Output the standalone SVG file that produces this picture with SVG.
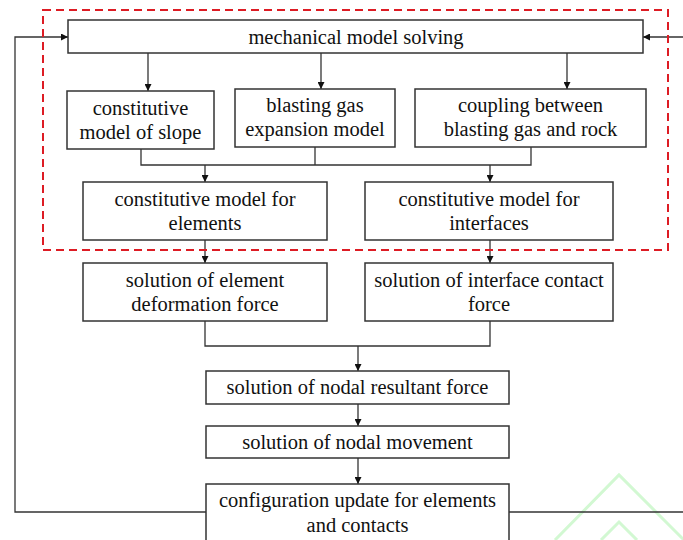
<svg xmlns="http://www.w3.org/2000/svg" width="683" height="540" viewBox="0 0 683 540">
<style>
.box{fill:#fff;stroke:#333;stroke-width:1.5}
.t{font-family:"Liberation Serif","Times New Roman",serif;font-size:20.5px;fill:#111;text-anchor:middle}
.c{fill:none;stroke:#333;stroke-width:1.3}
.wm{fill:none;stroke:#d2f8d2;stroke-width:3}
</style>
<defs>
<marker id="ah" viewBox="0 0 10 10" refX="10" refY="5" markerWidth="7" markerHeight="7" markerUnits="userSpaceOnUse" orient="auto">
<path d="M0,0 L10,5 L0,10 z" fill="#111"/>
</marker>
</defs>
<rect width="683" height="540" fill="#fff"/>
<g id="watermark">
<polyline class="wm" points="555,540 619,475 684,540"/>
<polyline class="wm" points="601,540 619,522 637,540"/>
</g>
<g id="connectors">
<line class="c" x1="148" y1="53" x2="148" y2="91" marker-end="url(#ah)"/>
<line class="c" x1="321" y1="53" x2="321" y2="89" marker-end="url(#ah)"/>
<line class="c" x1="567" y1="53" x2="567" y2="89" marker-end="url(#ah)"/>
<polyline class="c" points="141,149 141,165 531,165 531,147"/>
<line class="c" x1="315" y1="147" x2="315" y2="165"/>
<line class="c" x1="205" y1="165" x2="205" y2="182" marker-end="url(#ah)"/>
<line class="c" x1="490" y1="165" x2="490" y2="182" marker-end="url(#ah)"/>
<line class="c" x1="205" y1="240" x2="205" y2="263" marker-end="url(#ah)"/>
<line class="c" x1="490" y1="240" x2="490" y2="263" marker-end="url(#ah)"/>
<polyline class="c" points="205,321 205,346 490,346 490,321"/>
<line class="c" x1="358" y1="346" x2="358" y2="371" marker-end="url(#ah)"/>
<line class="c" x1="358" y1="404" x2="358" y2="426" marker-end="url(#ah)"/>
<line class="c" x1="358" y1="458" x2="358" y2="484" marker-end="url(#ah)"/>
<polyline class="c" points="206,512 15,512 15,37 68,37" marker-end="url(#ah)"/>
<line class="c" x1="509" y1="512" x2="683" y2="512"/>
<line class="c" x1="683" y1="37" x2="643" y2="37" marker-end="url(#ah)"/>
</g>
<g id="frame">
<rect x="43" y="10" width="625" height="240" fill="none" stroke="#dd1c24" stroke-width="2" stroke-dasharray="8,5"/>
</g>
<g id="n-solving">
<rect class="box" x="68" y="20" width="575" height="33"/>
<text class="t" x="356" y="43.5">mechanical model solving</text>
</g>
<g id="n-slope">
<rect class="box" x="67" y="91" width="147" height="58"/>
<text class="t" x="140.5" y="115">constitutive</text>
<text class="t" x="140.5" y="139">model of slope</text>
</g>
<g id="n-gas">
<rect class="box" x="235" y="89" width="160" height="58"/>
<text class="t" x="315" y="112">blasting gas</text>
<text class="t" x="315" y="136">expansion model</text>
</g>
<g id="n-coupling">
<rect class="box" x="415" y="89" width="231" height="58"/>
<text class="t" x="530.5" y="112">coupling between</text>
<text class="t" x="530.5" y="136">blasting gas and rock</text>
</g>
<g id="n-cm-elements">
<rect class="box" x="83" y="182" width="244" height="58"/>
<text class="t" x="205" y="205.5">constitutive model for</text>
<text class="t" x="205" y="229.5">elements</text>
</g>
<g id="n-cm-interfaces">
<rect class="box" x="365" y="182" width="248" height="58"/>
<text class="t" x="489" y="205.5">constitutive model for</text>
<text class="t" x="489" y="229.5">interfaces</text>
</g>
<g id="n-sol-element">
<rect class="box" x="83" y="263" width="244" height="58"/>
<text class="t" x="205" y="286.5">solution of element</text>
<text class="t" x="205" y="310.5">deformation force</text>
</g>
<g id="n-sol-interface">
<rect class="box" x="365" y="263" width="248" height="58"/>
<text class="t" x="489" y="286.5">solution of interface contact</text>
<text class="t" x="489" y="310.5">force</text>
</g>
<g id="n-resultant">
<rect class="box" x="206" y="371" width="303" height="33"/>
<text class="t" x="357.5" y="394">solution of nodal resultant force</text>
</g>
<g id="n-movement">
<rect class="box" x="206" y="426" width="303" height="32"/>
<text class="t" x="357.5" y="448.5">solution of nodal movement</text>
</g>
<g id="n-config">
<rect class="box" x="206" y="484" width="303" height="70"/>
<text class="t" x="357.5" y="507">configuration update for elements</text>
<text class="t" x="357.5" y="531.5">and contacts</text>
</g>
</svg>
